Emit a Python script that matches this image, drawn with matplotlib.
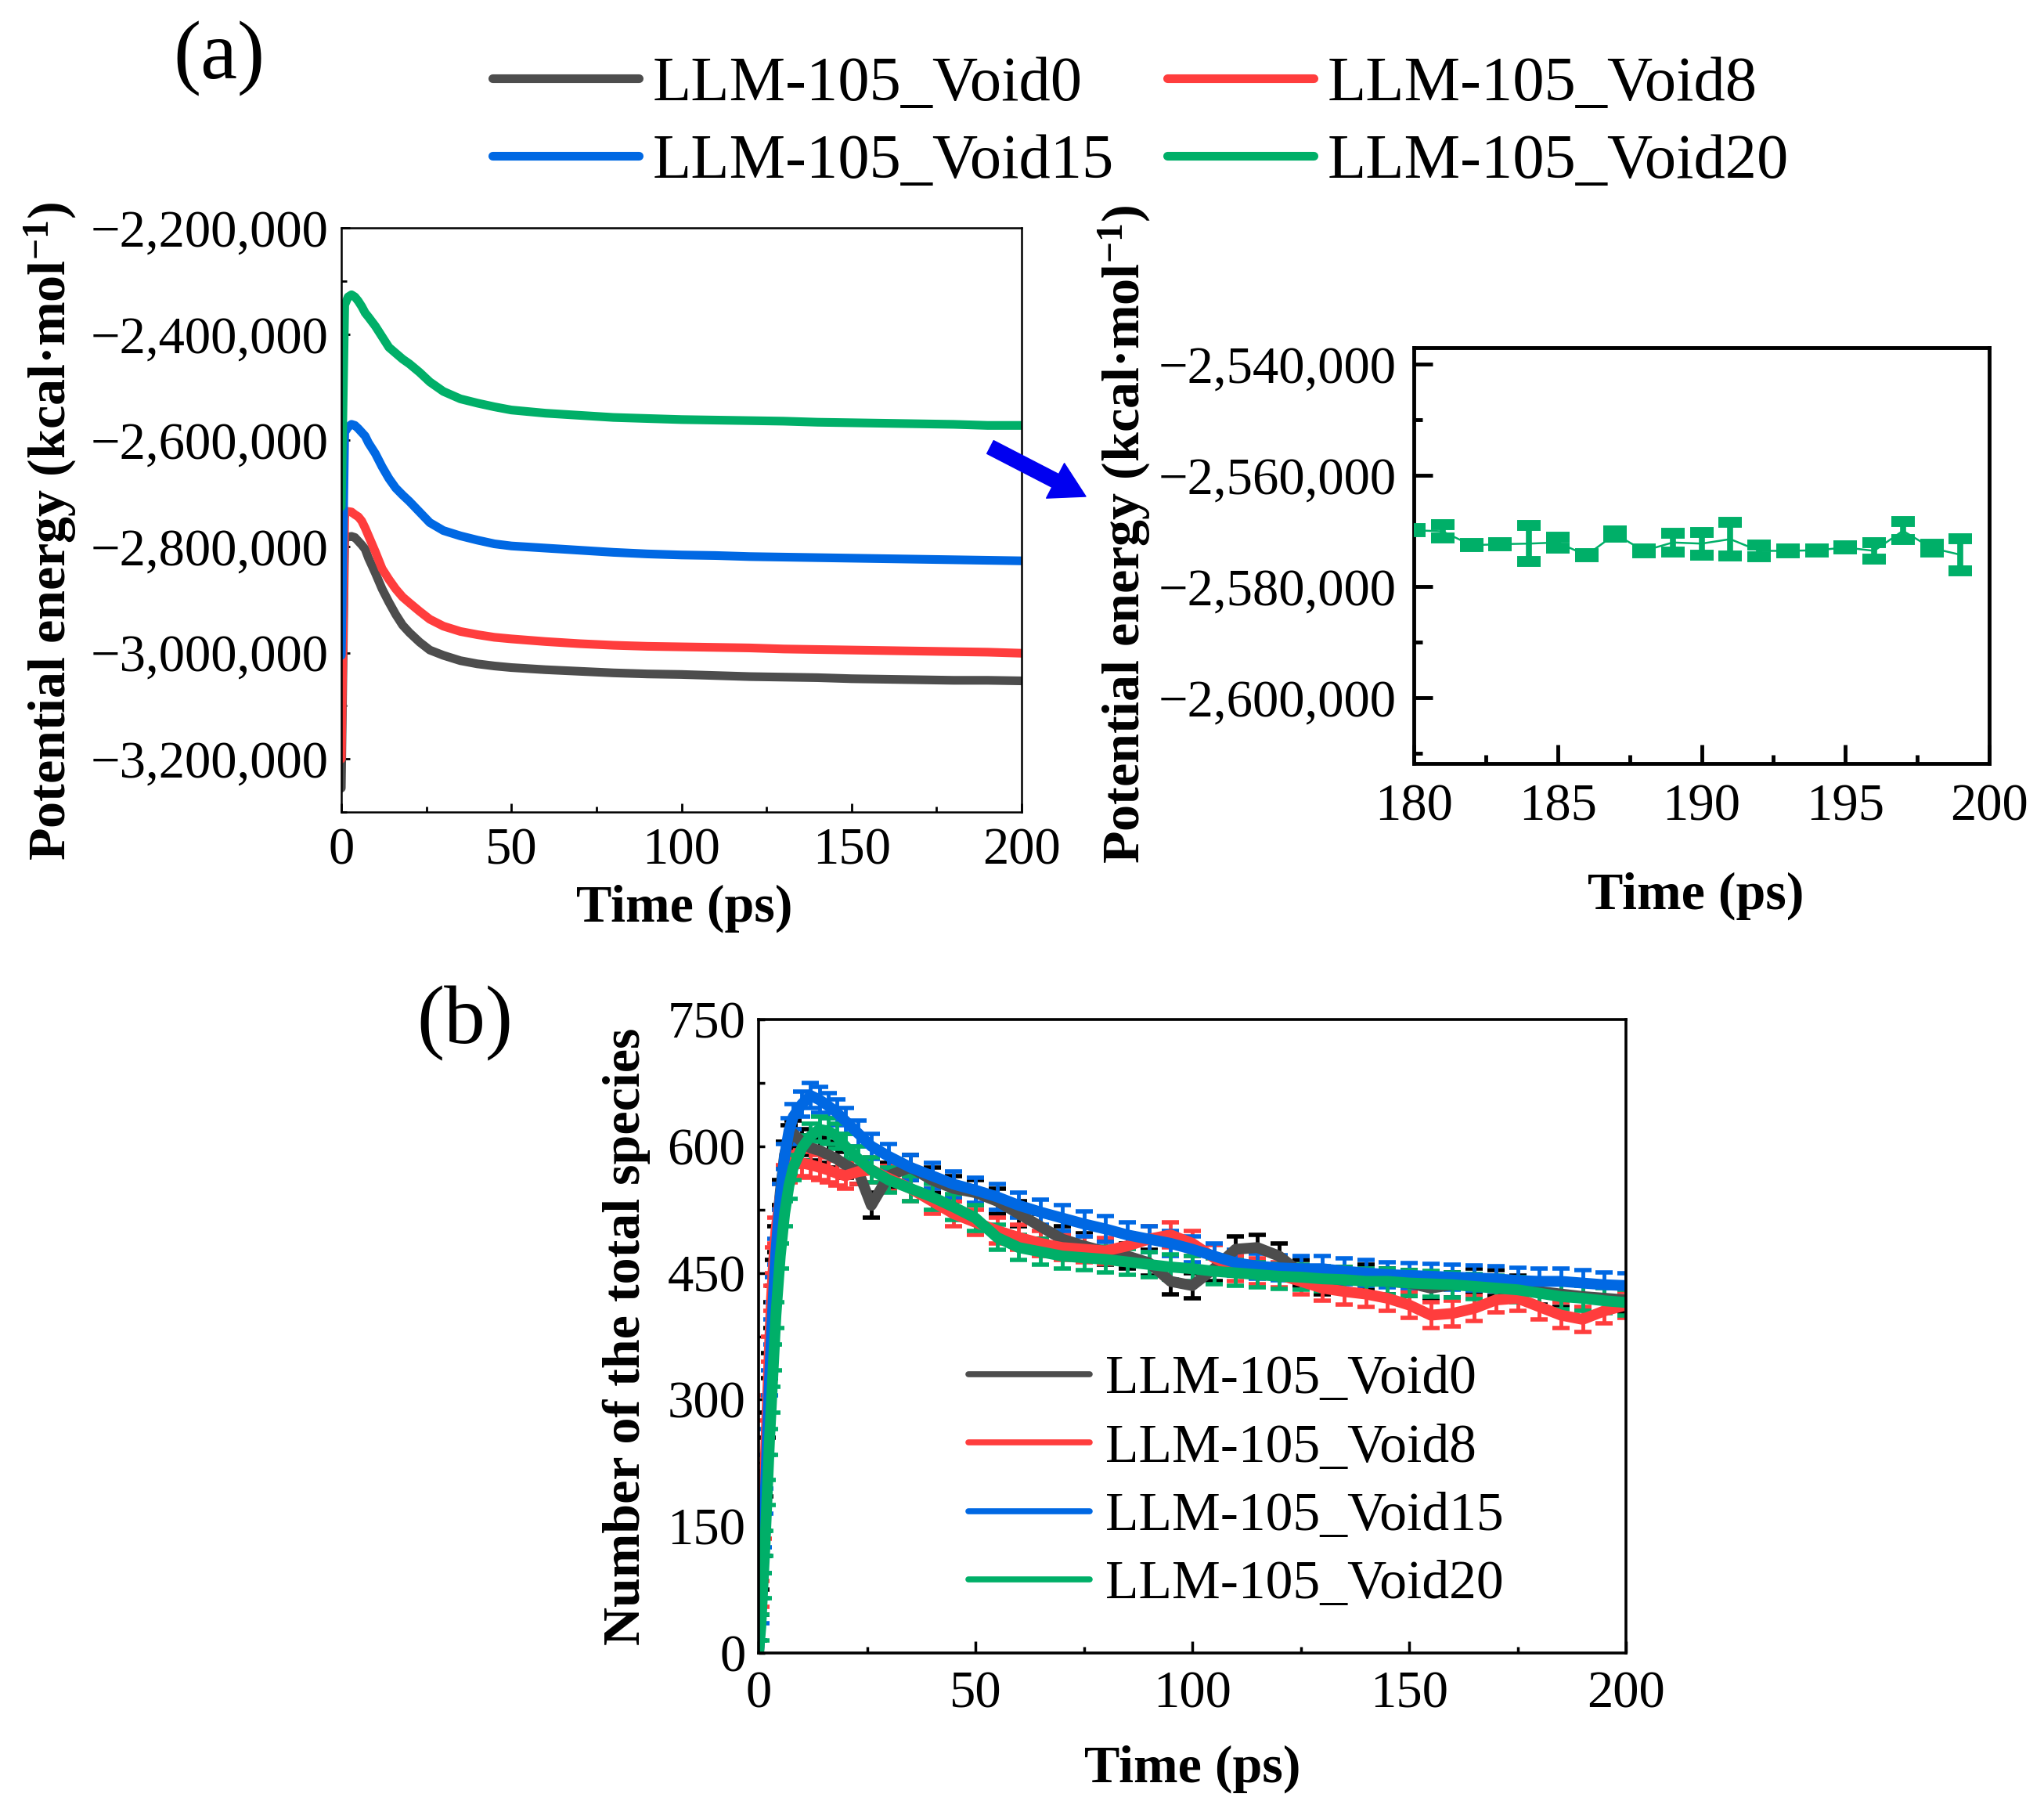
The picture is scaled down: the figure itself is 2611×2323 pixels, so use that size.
import matplotlib
matplotlib.use("Agg")
import matplotlib.pyplot as plt
from matplotlib.ticker import MultipleLocator, FuncFormatter

plt.rcParams['font.family'] = ['Liberation Serif', 'DejaVu Serif']
plt.rcParams['mathtext.fontset'] = 'custom'
plt.rcParams['mathtext.rm'] = 'Liberation Serif'
plt.rcParams['mathtext.bf'] = 'Liberation Serif:bold'
plt.rcParams['mathtext.it'] = 'Liberation Serif:italic'

# ---------------- data ----------------
labels = ['LLM-105_Void0', 'LLM-105_Void8', 'LLM-105_Void15', 'LLM-105_Void20']
colors = ['#4D4D4D', '#FF3D3D', '#0068E3', '#00AF68']

# panel (a): potential energy vs time
t_a = [0, 1, 2, 3, 4, 5, 6, 7, 8, 10, 12, 14, 16, 18, 20, 23, 26, 30, 35, 40, 45, 50,
       60, 70, 80, 90, 100, 110, 120, 130, 140, 150, 160, 170, 180, 190, 200]
pe_void0 = [-3255000, -2785000, -2782000, -2781000, -2783000, -2790000, -2797000, -2805000,
            -2822000, -2850000, -2880000, -2905000, -2928000, -2948000, -2962000, -2980000,
            -2995000, -3005000, -3015000, -3021000, -3025000, -3028000, -3032000, -3035000,
            -3038000, -3040000, -3041000, -3043000, -3045000, -3046000, -3047000, -3049000,
            -3050000, -3051000, -3052000, -3052000, -3053000]
pe_void8 = [-3200000, -2740000, -2734000, -2735000, -2740000, -2744000, -2752000, -2765000,
            -2780000, -2810000, -2842000, -2862000, -2880000, -2895000, -2906000, -2922000,
            -2937000, -2950000, -2960000, -2966000, -2971000, -2974000, -2979000, -2983000,
            -2986000, -2988000, -2989000, -2990000, -2991000, -2993000, -2994000, -2995000,
            -2996000, -2997000, -2998000, -2999000, -3001000]
pe_void15 = [-3005000, -2585000, -2575000, -2570000, -2572000, -2578000, -2585000, -2592000,
             -2605000, -2625000, -2650000, -2672000, -2690000, -2703000, -2715000, -2735000,
             -2755000, -2770000, -2780000, -2788000, -2795000, -2799000, -2803000, -2807000,
             -2811000, -2814000, -2816000, -2817000, -2819000, -2820000, -2821000, -2822000,
             -2823000, -2824000, -2825000, -2826000, -2827000]
pe_void20 = [-2725000, -2345000, -2330000, -2326000, -2330000, -2338000, -2348000, -2360000,
             -2368000, -2385000, -2405000, -2425000, -2436000, -2447000, -2456000, -2472000,
             -2490000, -2508000, -2522000, -2530000, -2537000, -2543000, -2549000, -2553000,
             -2557000, -2559000, -2561000, -2562000, -2563000, -2564000, -2566000, -2567000,
             -2568000, -2569000, -2570000, -2572000, -2572000]

# inset: Void20 at 180-199 ps with error bars
t_in = [180, 181, 182, 183, 184, 185, 186, 187, 188, 189, 190, 191, 192, 193, 194, 195,
        196, 197, 198, 199]
pe_in = [-2569900, -2570100, -2572600, -2572400, -2572300, -2572100, -2574400, -2570600,
         -2573600, -2572100, -2572300, -2571500, -2573600, -2573600, -2573500, -2573000,
         -2573600, -2570000, -2573100, -2574300]
err_in = [300, 1200, 300, 300, 3200, 950, 300, 540, 300, 1670, 2020, 3050, 1000, 300, 300,
          300, 1540, 1620, 670, 2940]

# panel (b): number of total species vs time
t_b = [0, 0.5, 1, 1.5, 2, 2.5, 3, 3.5, 4, 5, 6, 7, 8, 10, 12, 14, 16, 18, 20, 23, 26, 30,
       35, 40, 45, 50, 55, 60, 65, 70, 75, 80, 85, 90, 95, 100, 105, 110, 115, 120, 125,
       130, 135, 140, 145, 150, 155, 160, 165, 170, 175, 180, 185, 190, 195, 200]
ns_void0 = [0, 60, 130, 200, 270, 340, 400, 450, 490, 545, 590, 610, 615, 605, 598, 595,
            590, 585, 578, 570, 530, 565, 575, 560, 550, 545, 535, 520, 505, 490, 482, 475,
            470, 462, 440, 435, 455, 478, 480, 470, 450, 440, 442, 445, 440, 438, 432, 436,
            440, 438, 432, 428, 425, 422, 420, 418]
ns_void8 = [0, 70, 150, 220, 290, 360, 420, 465, 500, 540, 563, 572, 578, 580, 578, 575,
            572, 568, 565, 570, 572, 562, 550, 535, 520, 510, 500, 492, 485, 480, 478, 476,
            482, 490, 495, 485, 468, 455, 452, 448, 440, 432, 428, 425, 420, 412, 400, 402,
            408, 418, 420, 410, 400, 395, 405, 412]
ns_void15 = [0, 50, 110, 180, 250, 320, 380, 430, 475, 540, 588, 618, 635, 650, 660, 655,
             648, 640, 630, 615, 600, 588, 575, 565, 555, 548, 540, 530, 522, 515, 508, 502,
             495, 490, 485, 478, 470, 462, 458, 456, 455, 455, 452, 450, 448, 447, 446, 445,
             444, 443, 441, 440, 440, 438, 436, 435]
ns_void20 = [0, 30, 80, 130, 190, 250, 300, 350, 400, 470, 520, 553, 575, 598, 612, 620,
             618, 612, 600, 585, 572, 560, 550, 540, 528, 515, 492, 480, 475, 470, 468, 466,
             463, 460, 457, 455, 452, 450, 448, 446, 445, 443, 442, 440, 440, 438, 437, 436,
             434, 432, 430, 426, 422, 420, 417, 415]
err_b = 15

pe_series = [pe_void0, pe_void8, pe_void15, pe_void20]
ns_series = [ns_void0, ns_void8, ns_void15, ns_void20]

# ---------------- figure ----------------
W, H = 2611, 2323
fig = plt.figure(figsize=(W / 100, H / 100), dpi=100)

def fr(left, top, right, bottom):
    return [left / W, 1 - bottom / H, (right - left) / W, (bottom - top) / H]

TICK_FS = 48
LABEL_FS = 49
big_fmt = FuncFormatter(lambda v, p: f"{v:,.0f}".replace('-', '\u2212'))
ylab_pe = r'Potential energy (kcal·mol$^{\mathbf{-1}}$)'

# ---- panel (a) main ----
ax_a = fig.add_axes(fr(436, 291, 1305, 1037))
handles = []
for y, c, lab in zip(pe_series, colors, labels):
    ln, = ax_a.plot(t_a, y, color=c, lw=8, solid_joinstyle='round',
                    solid_capstyle='round', label=lab)
    handles.append(ln)
ax_a.set_xlim(0, 200)
ax_a.set_ylim(-3300000, -2200000)
ax_a.xaxis.set_major_locator(MultipleLocator(50))
ax_a.xaxis.set_minor_locator(MultipleLocator(25))
ax_a.yaxis.set_major_locator(MultipleLocator(200000))
ax_a.yaxis.set_minor_locator(MultipleLocator(100000))
ax_a.yaxis.set_major_formatter(big_fmt)
ax_a.tick_params(which='both', direction='in', top=False, right=False,
                 labelsize=TICK_FS, width=2)
ax_a.tick_params(which='major', length=8)
ax_a.tick_params(which='minor', length=5)
ax_a.tick_params(axis='y', pad=12)
ax_a.tick_params(axis='x', pad=14)
for s in ax_a.spines.values():
    s.set_linewidth(1.8)
ax_a.set_xlabel('Time (ps)', fontsize=LABEL_FS, fontweight='bold', va='center')
ax_a.xaxis.set_label_coords(0.504, -0.165)
ax_a.set_ylabel(ylab_pe, fontsize=LABEL_FS, fontweight='bold', va='center')
ax_a.yaxis.set_label_coords(-0.427, 0.481)

# ---- inset ----
ax_i = fig.add_axes(fr(1806, 444, 2541, 975))
ax_i.plot(t_in, pe_in, color=colors[3], lw=1.8, zorder=2)
ax_i.errorbar(t_in, pe_in, yerr=err_in, fmt='none', ecolor=colors[3], elinewidth=5.5,
              capsize=11, capthick=10, zorder=3)
ax_i.set_xlim(180, 200)
ax_i.set_ylim(-2611800, -2537100)
ax_i.xaxis.set_major_locator(MultipleLocator(5))
ax_i.xaxis.set_minor_locator(MultipleLocator(2.5))
ax_i.yaxis.set_major_locator(MultipleLocator(20000))
ax_i.yaxis.set_minor_locator(MultipleLocator(10000))
ax_i.yaxis.set_major_formatter(big_fmt)
ax_i.tick_params(which='both', direction='in', top=False, right=False,
                 labelsize=TICK_FS, width=3.5)
ax_i.tick_params(which='major', length=17)
ax_i.tick_params(which='minor', length=8)
ax_i.tick_params(axis='y', pad=16)
ax_i.tick_params(axis='x', pad=18)
for s in ax_i.spines.values():
    s.set_linewidth(3.5)
ax_i.set_xlabel('Time (ps)', fontsize=LABEL_FS, fontweight='bold', va='center')
ax_i.xaxis.set_label_coords(0.49, -0.319)
ax_i.set_ylabel(ylab_pe, fontsize=LABEL_FS, fontweight='bold', va='center')
ax_i.yaxis.set_label_coords(-0.502, 0.551)

# arrow from main panel to inset
ax_a.annotate('', xy=(1387 / W, 1 - 634 / H), xytext=(1265 / W, 1 - 571 / H),
              xycoords='figure fraction', textcoords='figure fraction',
              arrowprops=dict(arrowstyle='simple,head_length=0.7,head_width=0.8,tail_width=0.3',
                              color='#0000F0', mutation_scale=45, shrinkA=0, shrinkB=0))

# top legend
order = [0, 2, 1, 3]
fig.legend([handles[i] for i in order], [labels[i] for i in order], ncol=2,
           loc='upper left', bbox_to_anchor=(629 / W, 1 - 72 / H), frameon=False,
           fontsize=58, handlelength=2.32, handletextpad=0.22, columnspacing=0.85,
           labelspacing=0.31, borderpad=0, borderaxespad=0)

fig.text(280 / W, 1 - 75 / H, '(a)', fontsize=76, ha='center', va='center')

# ---- panel (b) ----
ax_b = fig.add_axes(fr(969, 1302, 2077, 2111))
hb = []
for y, c, lab in zip(ns_series, colors, labels):
    ecol = '#000000' if c == colors[0] else c
    eb = ax_b.errorbar(t_b, y, yerr=err_b, color=c, lw=10, ecolor=ecol, elinewidth=3.5,
                       capsize=8, capthick=4, label=lab, solid_joinstyle='round')
    hb.append(eb.lines[0])
ax_b.set_xlim(0, 200)
ax_b.set_ylim(0, 750)
ax_b.xaxis.set_major_locator(MultipleLocator(50))
ax_b.xaxis.set_minor_locator(MultipleLocator(25))
ax_b.yaxis.set_major_locator(MultipleLocator(150))
ax_b.yaxis.set_minor_locator(MultipleLocator(75))
ax_b.tick_params(which='both', direction='in', top=False, right=False,
                 labelsize=TICK_FS, width=2.5)
ax_b.tick_params(axis='x', which='major', length=11)
ax_b.tick_params(axis='x', which='minor', length=6)
ax_b.tick_params(axis='y', which='both', length=6)
ax_b.tick_params(axis='y', pad=12)
ax_b.tick_params(axis='x', pad=16)
for s in ax_b.spines.values():
    s.set_linewidth(2.6)
ax_b.set_xlabel('Time (ps)', fontsize=LABEL_FS, fontweight='bold', va='center')
ax_b.xaxis.set_label_coords(0.5, -0.183)
ax_b.set_ylabel('Number of the total species', fontsize=LABEL_FS, fontweight='bold',
                va='center')
ax_b.yaxis.set_label_coords(-0.152, 0.50)
leg_b = ax_b.legend(hb, labels, loc='upper left', bbox_to_anchor=(0.242, 0.47),
                    frameon=False, fontsize=50, handlelength=2.23, handletextpad=0.29,
                    labelspacing=0.34, borderpad=0, borderaxespad=0)
for h in leg_b.legend_handles:
    h.set_linewidth(5.5)
    h.set_solid_capstyle('round')

fig.text(594 / W, 1 - 1307 / H, '(b)', fontsize=76, ha='center', va='center')

fig.savefig('out.png', dpi=100)
